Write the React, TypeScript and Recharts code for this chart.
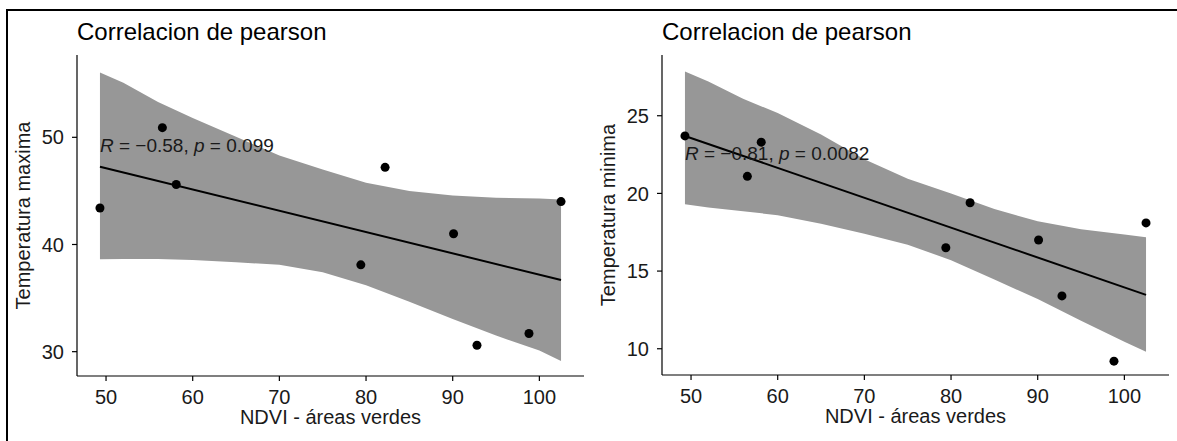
import {
  Area,
  ComposedChart,
  Label,
  Line,
  Scatter,
  XAxis,
  YAxis,
} from 'recharts'

// observed points (same NDVI for both panels)
const ndvi = [49.3, 56.5, 58.1, 79.4, 82.2, 90.1, 92.8, 98.8, 102.5]
const tempMax = [43.4, 50.9, 45.6, 38.1, 47.2, 41.0, 30.6, 31.7, 44.0]
const tempMin = [23.7, 21.1, 23.3, 16.5, 19.4, 17.0, 13.4, 9.2, 18.1]

// confidence band
const bandX = [49.3, 52, 56, 60, 65, 70, 75, 80, 85, 90, 95, 100, 102.5]
const maxLow = [38.62, 38.65, 38.65, 38.55, 38.35, 38.1, 37.4, 36.2, 34.65, 33.05, 31.5, 30.1, 29.13]
const maxHigh = [56.05, 55.1, 53.3, 51.8, 50.05, 48.3, 47.0, 45.75, 45.0, 44.57, 44.37, 44.28, 44.2]
const minLow = [19.3, 19.1, 18.85, 18.6, 18.05, 17.4, 16.7, 15.7, 14.45, 13.2, 11.8, 10.45, 9.8]
const minHigh = [27.85, 27.2, 26.1, 25.17, 23.8, 22.2, 20.95, 20.0, 19.0, 18.2, 17.7, 17.35, 17.17]

// fitted line ends
const fitX = [49.3, 102.5]
const fitMax = [47.26, 36.69]
const fitMin = [23.7, 13.47]

const xTicks = [50, 60, 70, 80, 90, 100]
const maxTicks = [30, 40, 50]
const minTicks = [10, 15, 20, 25]

const FONT = '"Liberation Sans", Arial, sans-serif'
const INK = '#1a1a1a'

interface PanelProps {
  left: number
  width: number
  marginLeft: number
  marginRight: number
  marginBottom: number
  yLabel: string
  ys: number[]
  low: number[]
  high: number[]
  fit: number[]
  yDomain: [number, number]
  yTicks: number[]
  stat: { r: string; p: string; y: number }
}

function Panel(p: PanelProps) {
  const band = bandX.map((x, i) => ({ x, band: [p.low[i], p.high[i]] }))
  const fitRows = fitX.map((x, i) => ({ x, y: p.fit[i] }))
  const pts = ndvi.map((x, i) => ({ x, y: p.ys[i] }))
  const statRow = [{ x: ndvi[0], y: p.stat.y }]

  return (
    <div style={{ position: 'absolute', left: p.left, top: 0 }}>
      <div
        style={{
          position: 'absolute',
          left: p.marginLeft + 57,
          top: 20,
          fontSize: 24,
          lineHeight: '24px',
          color: '#000',
          whiteSpace: 'nowrap',
        }}
      >
        Correlacion de pearson
      </div>
      <ComposedChart
        width={p.width}
        height={441}
        data={band}
        margin={{ top: 55, right: p.marginRight, bottom: p.marginBottom, left: p.marginLeft }}
      >
        <XAxis
          dataKey="x"
          type="number"
          domain={[46.65, 105.15]}
          ticks={xTicks}
          interval={0}
          allowDataOverflow
          height={48}
          tick={{ fontSize: 20, fill: INK }}
          tickSize={5}
          tickMargin={9}
          axisLine={{ stroke: '#000', strokeWidth: 1.2 }}
          tickLine={{ stroke: '#000', strokeWidth: 1.2 }}
        >
          <Label value="NDVI - áreas verdes" position="insideBottom" offset={0} fontSize={20} fill={INK} />
        </XAxis>
        <YAxis
          type="number"
          domain={p.yDomain}
          ticks={p.yTicks}
          interval={0}
          allowDataOverflow
          width={57}
          tick={{ fontSize: 20, fill: INK }}
          tickSize={5}
          tickMargin={8}
          axisLine={{ stroke: '#000', strokeWidth: 1.2 }}
          tickLine={{ stroke: '#000', strokeWidth: 1.2 }}
        >
          <Label
            content={(lp: any) => {
              const vb = lp.viewBox ?? { x: p.marginLeft, y: 55, height: 321 }
              const cx = vb.x + 10
              const cy = vb.y + vb.height / 2
              return (
                <text
                  x={cx}
                  y={cy}
                  transform={`rotate(-90 ${cx} ${cy})`}
                  textAnchor="middle"
                  fontSize={20}
                  fill={INK}
                >
                  {p.yLabel}
                </text>
              )
            }}
          />
        </YAxis>
        <Area
          dataKey="band"
          type="linear"
          stroke="none"
          fill="#979797"
          fillOpacity={1}
          isAnimationActive={false}
        />
        <Line
          data={fitRows}
          dataKey="y"
          type="linear"
          stroke="#000"
          strokeWidth={2}
          dot={false}
          activeDot={false}
          isAnimationActive={false}
        />
        <Scatter
          data={pts}
          dataKey="y"
          fill="#000"
          isAnimationActive={false}
          shape={(sp: any) => <circle cx={sp.cx} cy={sp.cy} r={4.5} fill="#000" />}
        />
        <Scatter
          data={statRow}
          dataKey="y"
          isAnimationActive={false}
          shape={(sp: any) => (
            <text x={sp.cx} y={sp.cy} fontSize={19} fill={INK}>
              <tspan fontStyle="italic">R</tspan>
              {` = \u2212${p.stat.r}, `}
              <tspan fontStyle="italic">p</tspan>
              {` = ${p.stat.p}`}
            </text>
          )}
        />
      </ComposedChart>
    </div>
  )
}

export default function App() {
  return (
    <div
      style={{
        position: 'absolute',
        left: 0,
        top: 0,
        width: 1177,
        height: 441,
        background: '#fff',
        fontFamily: FONT,
        overflow: 'hidden',
      }}
    >
      <div
        style={{
          position: 'absolute',
          left: 6,
          top: 9,
          width: 1177,
          height: 441,
          borderTop: '2px solid #000',
          borderLeft: '2px solid #000',
        }}
      />
      <Panel
        left={0}
        width={588}
        marginLeft={20}
        marginRight={4}
        marginBottom={17}
        yLabel="Temperatura maxima"
        ys={tempMax}
        low={maxLow}
        high={maxHigh}
        fit={fitMax}
        yDomain={[27.73, 57.68]}
        yTicks={maxTicks}
        stat={{ r: '0.58', p: '0.099', y: 48.66 }}
      />
      <Panel
        left={588}
        width={589}
        marginLeft={17}
        marginRight={8}
        marginBottom={18}
        yLabel="Temperatura minima"
        ys={tempMin}
        low={minLow}
        high={minHigh}
        fit={fitMin}
        yDomain={[8.31, 28.91]}
        yTicks={minTicks}
        stat={{ r: '0.81', p: '0.0082', y: 22.15 }}
      />
    </div>
  )
}
